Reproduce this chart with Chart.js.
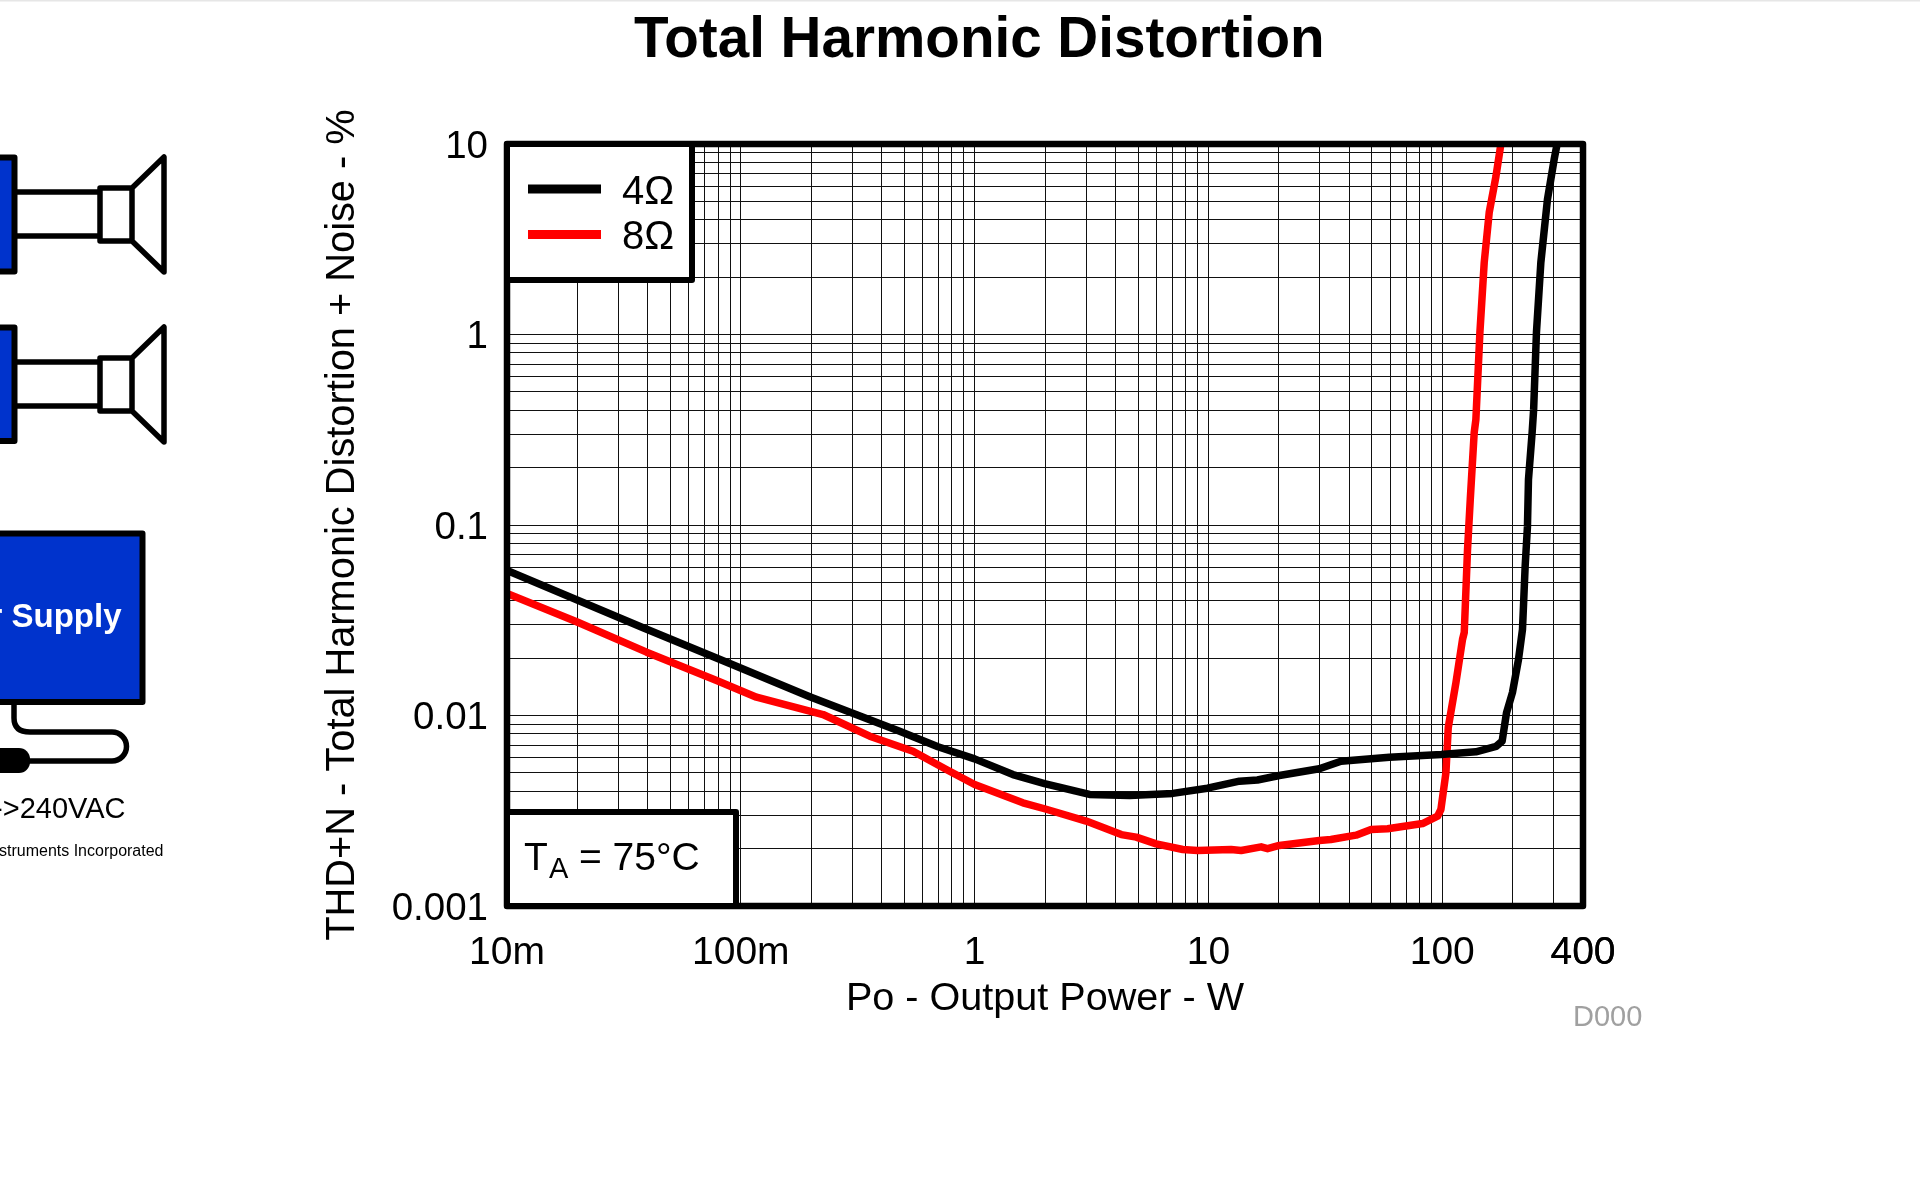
<!DOCTYPE html>
<html>
<head>
<meta charset="utf-8">
<title>Total Harmonic Distortion</title>
<script src="https://cdn.jsdelivr.net/npm/chart.js@4/dist/chart.umd.js"></script>
<style>html,body{margin:0;padding:0;background:#fff;overflow:hidden}canvas{display:block}</style>
</head>
<body>
<canvas id="c" width="1920" height="1200"></canvas>
<script>
const power4 = [0.01,0.0382,0.0897,0.1972,0.478,0.697,1.0,1.458,1.991,3.10,4.60,7.04,9.9,13.57,16.2,20.1,29.8,36.9,59.4,99,139.3,170,180.4,188.3,199.7,211.9,220.4,226.3,231.5,233.8,242.4,246,252.9,264.1,281.8,301,310];
const thd4 = [0.0577,0.02888,0.01875,0.01254,0.00827,0.00685,0.00592,0.0049,0.004395,0.00385,0.0038,0.0039,0.004153,0.00452,0.004587,0.00484,0.00525,0.00575,0.00604,0.00624,0.00645,0.00688,0.00733,0.01033,0.0132,0.01968,0.02828,0.0608,0.0986,0.1733,0.306,0.404,1.024,2.388,5.11,8.29,10];
const power8 = [0.01,0.01985,0.03954,0.0788,0.1167,0.2248,0.356,0.545,0.757,1.0,1.609,1.991,3.0,4.24,4.91,5.98,7.77,8.97,12.5,13.8,16.8,17.9,20.1,29.8,33.4,42.8,49.6,58.4,82.4,95.5,98.7,103.7,106.1,114.4,122.1,124.2,128.3,131.8,137,139.3,144.9,151.2,158.8,169.7,178.2];
const thd8 = [0.0437,0.03104,0.0215,0.01526,0.01248,0.01012,0.00779,0.00649,0.00521,0.00434,0.00348,0.00324,0.00279,0.00237,0.0023,0.00212,0.00198,0.001956,0.00198,0.001956,0.002045,0.002,0.00208,0.002207,0.002234,0.002354,0.00252,0.002543,0.00271,0.00296,0.00321,0.0050,0.00865,0.01485,0.02506,0.02727,0.0744,0.1361,0.306,0.358,1.024,2.388,4.37,6.75,10];
const seriesNames = ['4Ω','8Ω'];
const seriesColors = ['#000000','#ff0000'];
const xTickValues = [0.01,0.1,1,10,100,400];
const xTickTexts = ['10m','100m','1','10','100','400'];
const yTickValues = [0.001,0.01,0.1,1,10];
const yTickTexts = ['0.001','0.01','0.1','1','10'];
const xGridMultipliers = [1,2,3,4,5,6,7,8,9];
const xGridDecades = [0.01,0.1,1,10,100];
const yGridDecades = [0.001,0.01,0.1,1];

const FONT = '"Liberation Sans", Arial, sans-serif';
const pairs = (xs, ys) => xs.map((x, i) => ({x, y: ys[i]}));
function gridValues(decades, max) {
  const out = [];
  decades.forEach(d => xGridMultipliers.forEach(m => { const v = d * m; if (v <= max * 1.0001) out.push(v); }));
  out.push(max);
  return out;
}
function labelFor(value, values, texts) {
  const i = values.findIndex(v => Math.abs(Math.log10(value / v)) < 1e-6);
  return i < 0 ? '' : texts[i];
}
function stroke(ctx, w, color, draw) {
  ctx.save(); ctx.lineWidth = w; ctx.strokeStyle = color; ctx.lineJoin = 'round'; ctx.beginPath(); draw(); ctx.stroke(); ctx.restore();
}
function text(ctx, s, x, y, font, color, align) {
  ctx.save(); ctx.font = font; ctx.fillStyle = color; ctx.textAlign = align || 'left'; ctx.textBaseline = 'alphabetic'; ctx.fillText(s, x, y); ctx.restore();
}
function speaker(ctx, top, bottom, wireA, wireB, coneTop, coneBottom, rectTop, rectBottom) {
  ctx.fillStyle = '#0033cc';
  ctx.fillRect(-10, top, 24.5, bottom - top);
  stroke(ctx, 6, '#000', () => ctx.rect(-10, top, 24.5, bottom - top));
  stroke(ctx, 5.5, '#000', () => {
    ctx.moveTo(15, wireA); ctx.lineTo(100, wireA);
    ctx.moveTo(15, wireB); ctx.lineTo(100, wireB);
    ctx.rect(100, rectTop, 32, rectBottom - rectTop);
    ctx.moveTo(132, rectTop); ctx.lineTo(164, coneTop); ctx.lineTo(164, coneBottom); ctx.lineTo(132, rectBottom);
  });
}
const decorPlugin = {
  id: 'decor',
  afterLayout(chart) { chart.titleBlock.left += 28; chart.titleBlock.right += 28; },
  beforeDraw(chart) { chart.ctx.fillStyle = '#e6e6e6'; chart.ctx.fillRect(0, 0, 1920, 1.5); },
  afterDatasetsDraw(chart) {
    const ctx = chart.ctx, a = chart.chartArea;
    // plot frame
    stroke(ctx, 6.5, '#000', () => ctx.rect(a.left, a.top, a.right - a.left, a.bottom - a.top));
    // legend box
    ctx.fillStyle = '#fff'; ctx.fillRect(a.left, a.top, 692 - a.left, 280 - a.top);
    stroke(ctx, 6, '#000', () => ctx.rect(a.left, a.top, 692 - a.left, 280 - a.top));
    [[189, 203.5], [234.5, 248.5]].forEach((p, i) => {
      stroke(ctx, 9, chart.data.datasets[i].borderColor, () => { ctx.moveTo(528, p[0]); ctx.lineTo(601, p[0]); });
      text(ctx, chart.data.datasets[i].label, 622, p[1], '40px ' + FONT, '#000');
    });
    // temperature box
    ctx.fillStyle = '#fff'; ctx.fillRect(a.left, 812, 736 - a.left, a.bottom - 812);
    stroke(ctx, 6, '#000', () => ctx.rect(a.left, 812, 736 - a.left, a.bottom - 812));
    text(ctx, 'T', 524, 870, '39px ' + FONT, '#000');
    text(ctx, 'A', 549, 878, '29px ' + FONT, '#000');
    text(ctx, '= 75°C', 579, 870, '39px ' + FONT, '#000');
    // speakers
    speaker(ctx, 157.5, 271.5, 192, 236, 157, 272, 188, 241);
    speaker(ctx, 327.5, 441, 362, 406, 327, 442, 358, 411);
    // supply box
    ctx.fillStyle = '#0033cc'; ctx.fillRect(-10, 533.5, 152.5, 168.5);
    stroke(ctx, 6, '#000', () => ctx.rect(-10, 533.5, 152.5, 168.5));
    text(ctx, 'Power Supply', 121.5, 627, 'bold 33px ' + FONT, '#fff', 'right');
    // cable and plug
    stroke(ctx, 5.5, '#000', () => {
      ctx.moveTo(14, 705); ctx.lineTo(14, 718); ctx.quadraticCurveTo(14, 732, 30, 732);
      ctx.lineTo(112, 732); ctx.arc(112, 746.5, 14.5, -Math.PI / 2, Math.PI / 2); ctx.lineTo(25, 761);
    });
    ctx.fillStyle = '#000'; ctx.beginPath(); ctx.roundRect(-20, 748, 50, 25, 11); ctx.fill();
    text(ctx, '->240VAC', 125.5, 818, '29px ' + FONT, '#000', 'right');
    text(ctx, 'Texas Instruments Incorporated', 163.5, 856, '16px ' + FONT, '#000', 'right');
    text(ctx, 'D000', 1573, 1026, '29px ' + FONT, '#a0a0a0');
  }
};
Chart.defaults.font.family = FONT;
new Chart(document.getElementById('c'), {
  type: 'line',
  plugins: [decorPlugin],
  data: {
    datasets: [
      {label: seriesNames[0], data: pairs(power4, thd4), borderColor: seriesColors[0], borderWidth: 7.5, pointRadius: 0, tension: 0, borderJoinStyle: 'round'},
      {label: seriesNames[1], data: pairs(power8, thd8), borderColor: seriesColors[1], borderWidth: 7.5, pointRadius: 0, tension: 0, borderJoinStyle: 'round'}
    ]
  },
  options: {
    responsive: false,
    devicePixelRatio: 1,
    animation: false,
    layout: {padding: {left: 319.5, right: 337, top: 0, bottom: 177}},
    plugins: {
      legend: {display: false},
      tooltip: {enabled: false},
      title: {display: true, text: 'Total Harmonic Distortion', color: '#000', font: {size: 56.6, weight: 'bold', lineHeight: 1.2}, padding: {top: 7.4, bottom: 68.7}}
    },
    scales: {
      x: {
        type: 'logarithmic', min: 0.01, max: 400,
        afterBuildTicks(s) { s.ticks = gridValues(xGridDecades, 400).map(value => ({value})); },
        afterFit(s) { s.height = 117; },
        grid: {color: '#111', lineWidth: 1, drawTicks: false},
        border: {display: false},
        ticks: {autoSkip: false, maxRotation: 0, minRotation: 0, padding: 24, color: '#000', font: {size: 39}, callback: v => labelFor(v, xTickValues, xTickTexts)},
        title: {display: true, text: 'Po - Output Power - W', color: '#000', font: {size: 39.6, lineHeight: 1.2}, padding: 0}
      },
      y: {
        type: 'logarithmic', min: 0.001, max: 10,
        afterBuildTicks(s) { s.ticks = gridValues(yGridDecades, 10).map(value => ({value})); },
        afterFit(s) { s.width = 187.5; },
        grid: {color: '#111', lineWidth: 1, drawTicks: false},
        border: {display: false},
        ticks: {autoSkip: false, padding: 19, labelOffset: 3, color: '#000', font: {size: 38.5}, callback: v => labelFor(v, yTickValues, yTickTexts)},
        title: {display: true, text: 'THD+N - Total Harmonic Distortion + Noise - %', color: '#000', font: {size: 39.8, lineHeight: 1.2}, padding: 0}
      }
    }
  }
});
</script>
</body>
</html>
